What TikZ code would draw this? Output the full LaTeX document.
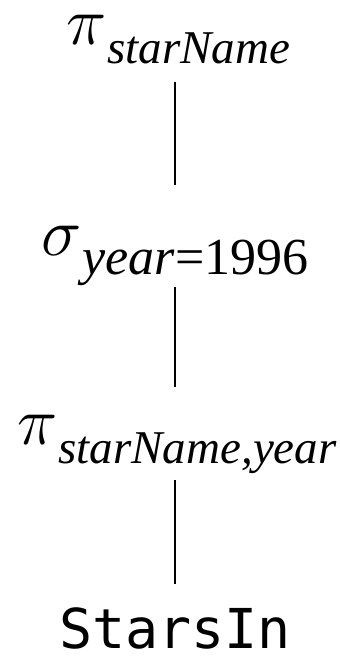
\RequirePackage{fix-cm}
\documentclass[tikz,border=0pt]{standalone}
\usepackage{fontspec}
\setmainfont{Liberation Serif}
\newfontfamily\relfont{DejaVu Sans Mono}
\usepackage{tikz}
\usetikzlibrary{positioning, calc}

% operator symbol with a lowered subscript
\newcommand{\relop}[3][47pt]{%
  \fontsize{68pt}{72pt}\selectfont$#2$\kern1pt%
  \raisebox{-19pt}{\fontsize{#1}{#1}\selectfont #3}}

\begin{document}
\begin{tikzpicture}[
    x=1pt, y=-1pt,
    opnode/.style={inner sep=0pt, anchor=base},
    relnode/.style={inner sep=0pt, anchor=base, font=\relfont\fontsize{55pt}{60pt}\selectfont},
    edge/.style={line width=2pt}
]
\useasboundingbox (0,0) rectangle (340,656);

\node[opnode]  (proj)    at (178, 44)  {\relop{\pi}{\textit{starName}}};
\node[opnode]  (select)  at (175, 255) {\relop[52pt]{\sigma}{\textit{year}=1996}};
\node[opnode]  (projb)   at (177, 444) {\relop{\pi}{\textit{starName,year}}};
\node[relnode] (stars)   at (175, 648) {StarsIn};

\coordinate (axis) at (175, 0);

% Edges
\draw[edge, shorten <=18pt, shorten >=41pt] (proj.south -| axis) -- (select.north -| axis);
\draw[edge, shorten <=2pt, shorten >=28pt] (select.south -| axis) -- (projb.north -| axis);
\draw[edge, shorten <=7pt, shorten >=23pt] (projb.south -| axis) -- (stars.north -| axis);

\end{tikzpicture}
\end{document}
